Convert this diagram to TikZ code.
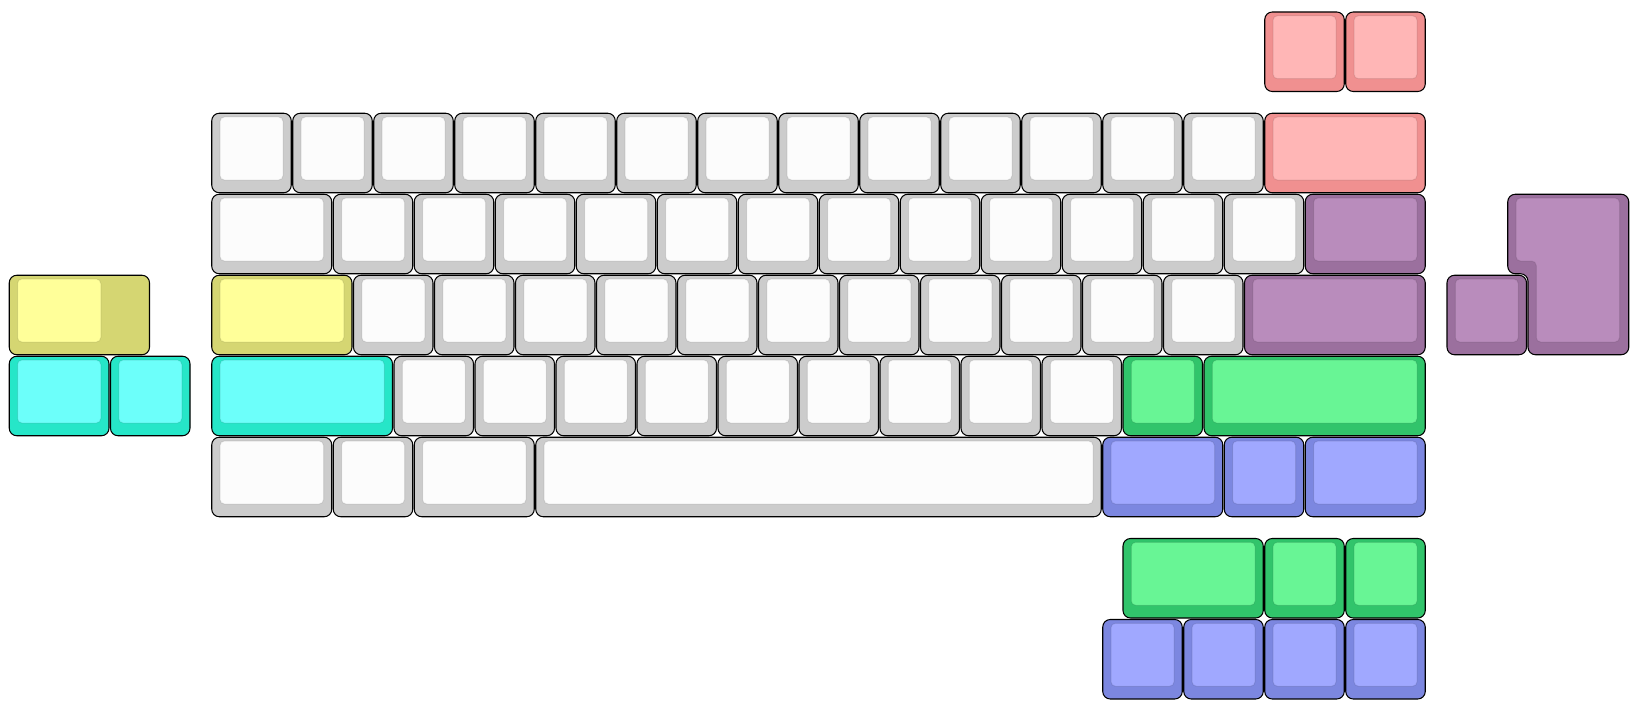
\documentclass[tikz,border=0pt]{standalone}
\usepackage{tikz}
\definecolor{gryO}{HTML}{CCCCCC}
\definecolor{gryI}{HTML}{FCFCFC}
\definecolor{redO}{HTML}{F09090}
\definecolor{redI}{HTML}{FFB6B6}
\definecolor{purO}{HTML}{9B709E}
\definecolor{purI}{HTML}{B98CBC}
\definecolor{grnO}{HTML}{31C46B}
\definecolor{grnI}{HTML}{68F595}
\definecolor{bluO}{HTML}{7C87E0}
\definecolor{bluI}{HTML}{A0A8FF}
\definecolor{cyaO}{HTML}{26E6C8}
\definecolor{cyaI}{HTML}{6CFFFA}
\definecolor{yelO}{HTML}{D5D672}
\definecolor{yelI}{HTML}{FFFF99}
\tikzset{
  keyouter/.style={draw=black, line width=1.05pt, rounded corners=7.5pt},
  keyinner/.style={draw=black, draw opacity=0.09, line width=1pt, rounded corners=4.5pt}
}
% x, y, w, h, outer colour, inner colour
\newcommand{\kbkey}[6]{%
  \draw[keyouter, fill=#5] ({211+(#1)*81+0.75},{112.5+(#2)*81+0.75}) rectangle ({211+(#1+#3)*81-0.75},{112.5+(#2+#4)*81-0.75});
  \draw[keyinner, fill=#6] ({211+(#1)*81+9},{112.5+(#2)*81+4.5}) rectangle ({211+(#1+#3)*81-9},{112.5+(#2+#4)*81-13.5});
}
% stepped: x, y, w, h, inner width, outer colour, inner colour
\newcommand{\kbstepped}[7]{%
  \draw[keyouter, fill=#6] ({211+(#1)*81+0.75},{112.5+(#2)*81+0.75}) rectangle ({211+(#1+#3)*81-0.75},{112.5+(#2+#4)*81-0.75});
  \draw[keyinner, fill=#7] ({211+(#1)*81+9},{112.5+(#2)*81+4.5}) rectangle ({211+(#1+#5)*81-9},{112.5+(#2+#4)*81-13.5});
}
\begin{document}
\begin{tikzpicture}[x=1pt,y=-1pt]
\useasboundingbox (0,0) rectangle (1636,706);
% top red
\kbkey{13}{-1.25}{1}{1}{redO}{redI}
\kbkey{14}{-1.25}{1}{1}{redO}{redI}
% row 0
\foreach \i in {0,...,12} {\kbkey{\i}{0}{1}{1}{gryO}{gryI}}
\kbkey{13}{0}{2}{1}{redO}{redI}
% row 1
\kbkey{0}{1}{1.5}{1}{gryO}{gryI}
\foreach \i in {0,...,11} {\kbkey{1.5+\i}{1}{1}{1}{gryO}{gryI}}
\kbkey{13.5}{1}{1.5}{1}{purO}{purI}
% row 2
\kbkey{0}{2}{1.75}{1}{yelO}{yelI}
\foreach \i in {0,...,10} {\kbkey{1.75+\i}{2}{1}{1}{gryO}{gryI}}
\kbkey{12.75}{2}{2.25}{1}{purO}{purI}
% row 3
\kbkey{0}{3}{2.25}{1}{cyaO}{cyaI}
\foreach \i in {0,...,8} {\kbkey{2.25+\i}{3}{1}{1}{gryO}{gryI}}
\kbkey{11.25}{3}{1}{1}{grnO}{grnI}
\kbkey{12.25}{3}{2.75}{1}{grnO}{grnI}
% row 4
\kbkey{0}{4}{1.5}{1}{gryO}{gryI}
\kbkey{1.5}{4}{1}{1}{gryO}{gryI}
\kbkey{2.5}{4}{1.5}{1}{gryO}{gryI}
\kbkey{4}{4}{7}{1}{gryO}{gryI}
\kbkey{11}{4}{1.5}{1}{bluO}{bluI}
\kbkey{12.5}{4}{1}{1}{bluO}{bluI}
\kbkey{13.5}{4}{1.5}{1}{bluO}{bluI}
% extra green row
\kbkey{11.25}{5.25}{1.75}{1}{grnO}{grnI}
\kbkey{13}{5.25}{1}{1}{grnO}{grnI}
\kbkey{14}{5.25}{1}{1}{grnO}{grnI}
% extra blue row
\foreach \i in {11,...,14} {\kbkey{\i}{6.25}{1}{1}{bluO}{bluI}}
% left extras
\kbstepped{-2.5}{2}{1.75}{1}{1.25}{yelO}{yelI}
\kbkey{-2.5}{3}{1.25}{1}{cyaO}{cyaI}
\kbkey{-1.25}{3}{1}{1}{cyaO}{cyaI}
% right extras
\kbkey{15.25}{2}{1}{1}{purO}{purI}
% ISO enter
\draw[keyouter, fill=purO] (1507.75,194.25) -- (1628.75,194.25) -- (1628.75,354.75) -- (1528,354.75) -- (1528,273.75) -- (1507.75,273.75) -- cycle;
\draw[keyinner, fill=purI] (1516,198) -- (1619.5,198) -- (1619.5,342) -- (1536.25,342) -- (1536.25,261) -- (1516,261) -- cycle;
\end{tikzpicture}
\end{document}
